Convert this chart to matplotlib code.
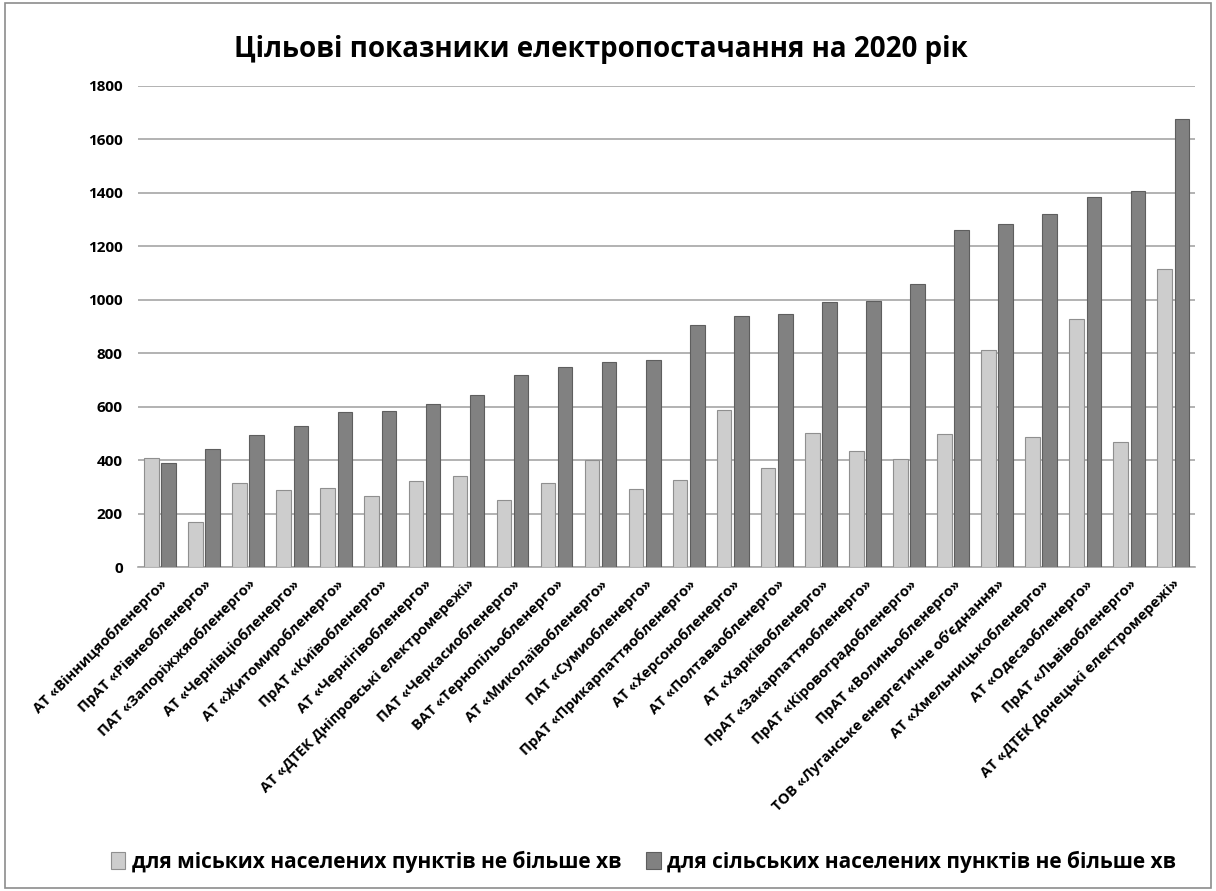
import numpy as np
import matplotlib
matplotlib.use('Agg')
import matplotlib.pyplot as plt
from matplotlib.patches import Rectangle

plt.rcParams['font.family'] = ['Open Sans', 'DejaVu Sans']

# Дані
companies = [
    'АТ «Вінницяобленерго»', 'ПрАТ «Рівнеобленерго»', 'ПАТ «Запоріжжяобленерго»',
    'АТ «Чернівціобленерго»', 'АТ «Житомиробленерго»', 'ПрАТ «Київобленерго»',
    'АТ «Чернігівобленерго»', 'АТ «ДТЕК Дніпровські електромережі»', 'ПАТ «Черкасиобленерго»',
    'ВАТ «Тернопільобленерго»', 'АТ «Миколаївобленерго»', 'ПАТ «Сумиобленерго»',
    'ПрАТ «Прикарпаттяобленерго»', 'АТ «Херсонобленерго»', 'АТ «Полтаваобленерго»',
    'АТ «Харківобленерго»', 'ПрАТ «Закарпаттяобленерго»', 'ПрАТ «Кіровоградобленерго»',
    'ПрАТ «Волиньобленерго»', 'ТОВ «Луганське енергетичне об’єднання»', 'АТ «Хмельницькобленерго»',
    'АТ «Одесаобленерго»', 'ПрАТ «Львівобленерго»', 'АТ «ДТЕК Донецькі електромережі»',
]
urban = [409, 168, 316, 287, 296, 267, 322, 339, 252, 314, 400, 292,
         326, 586, 372, 500, 434, 404, 496, 812, 488, 928, 467, 1116]
rural = [391, 440, 493, 529, 581, 585, 609, 644, 717, 747, 766, 776,
         904, 938, 946, 990, 994, 1059, 1260, 1283, 1321, 1386, 1408, 1675]
series_labels = ['для міських населених пунктів не більше хв',
                 'для сільських населених пунктів не більше хв']
yticks = [0, 200, 400, 600, 800, 1000, 1200, 1400, 1600, 1800]

fig = plt.figure(figsize=(12.16, 8.91), dpi=100)
ax = fig.add_axes([0.1135, 0.3636, 0.8695, 0.54])

x = np.arange(len(companies))
w = 0.33
ax.bar(x - 0.195, urban, w, color='#cdcdcd', edgecolor='#8f8f8f', linewidth=0.8,
       label=series_labels[0], zorder=3)
ax.bar(x + 0.195, rural, w, color='#818181', edgecolor='#5e5e5e', linewidth=0.8,
       label=series_labels[1], zorder=3)

ax.set_ylim(0, 1800)
ax.set_xlim(-0.5, len(companies) - 0.5)
ax.set_yticks(yticks)
ax.set_yticklabels([str(v) for v in yticks], fontsize=11, fontweight='bold')
ax.yaxis.grid(True, color='#a6a6a6', linewidth=1.2, zorder=0)
ax.tick_params(axis='y', length=0, pad=11)
ax.tick_params(axis='x', length=0, pad=7)
for s in ['top', 'right', 'left']:
    ax.spines[s].set_visible(False)
ax.spines['bottom'].set_color('#a6a6a6')
ax.spines['bottom'].set_linewidth(1.2)

ax.set_xticks(x)
ax.set_xticklabels(companies, rotation=45, ha='right', rotation_mode='anchor',
                   fontsize=10.5, fontweight='bold')

fig.text(0.494, 0.945, 'Цільові показники електропостачання на 2020 рік',
         ha='center', va='center', fontsize=20, fontweight='bold')

fig.legend(loc='center', bbox_to_anchor=(0.529, 0.033), ncol=2, frameon=False,
           prop={'size': 15, 'weight': 'bold'}, handlelength=0.7, handleheight=0.9,
           handletextpad=0.3, columnspacing=1.2)

# рамка навколо діаграми
fig.patches.append(Rectangle((0.004, 0.003), 0.992, 0.994, transform=fig.transFigure,
                             fill=False, edgecolor='#8c8c8c', linewidth=1.2))

fig.savefig('out.png', dpi=100)
